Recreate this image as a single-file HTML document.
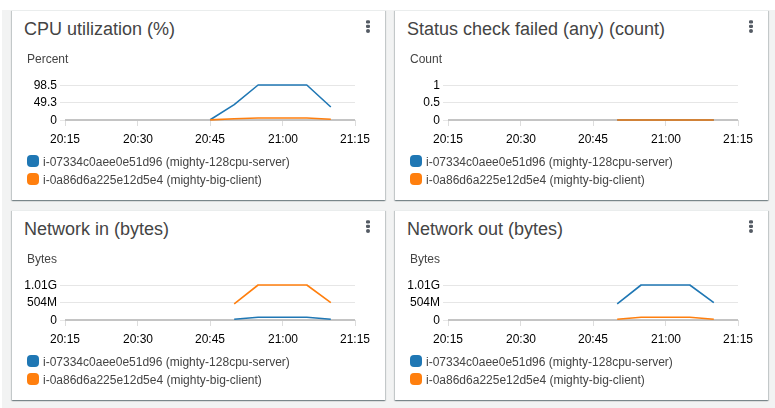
<!DOCTYPE html>
<html><head><meta charset="utf-8"><title>CloudWatch</title>
<style>
html,body{margin:0;padding:0;background:#fff;}
body{width:775px;height:408px;overflow:hidden;position:relative;font-family:"Liberation Sans",sans-serif;}
.bg{position:absolute;left:2px;top:10px;width:773px;height:398px;background:#f2f3f3;}
.p{position:absolute;width:373px;height:190px;background:#fff;box-shadow:inset 0 1px 0 0 #eaeded,0 1px 1px 0 rgba(0,28,36,.3),1px 1px 1px 0 rgba(0,28,36,.15),-1px 1px 1px 0 rgba(0,28,36,.15);}
.t{position:absolute;left:12px;top:8px;font-size:18px;line-height:22px;color:#444;white-space:nowrap;}
.k{position:absolute;left:353px;top:9px;fill:#545b64;}
.u{position:absolute;left:15px;top:42px;font-size:12px;line-height:14px;color:#444;white-space:nowrap;}
.y{position:absolute;left:0;width:45px;text-align:right;font-size:12px;line-height:14px;color:#000;}
.c{position:absolute;left:0;top:0;}
.x{position:absolute;top:122px;width:60px;text-align:center;font-size:12px;line-height:14px;color:#000;}
.l{position:absolute;left:15px;font-size:12px;line-height:14px;color:#444;white-space:nowrap;}
.l i{position:absolute;left:0;top:0;width:12px;height:12px;border-radius:4px;}
.l{padding-left:16px;}
.u,.y,.x,.l{will-change:transform;}
</style></head><body>
<div class="bg"></div>
<div class="p" style="left:12px;top:10px">
<div class="t">CPU utilization (%)</div>
<svg class="k" width="6" height="15" viewBox="0 0 6 15"><rect x="1" y="1.15" width="4" height="3.3" rx="1.3"/><rect x="1" y="5.75" width="4" height="3.3" rx="1.3"/><circle cx="3" cy="12" r="2"/></svg>
<div class="u">Percent</div>
<div class="y" style="top:68px">98.5</div>
<div class="y" style="top:85px">49.3</div>
<div class="y" style="top:103px">0</div>
<svg class="c" width="373" height="140" viewBox="0 0 373 140">
<path d="M48 75.5H343M48 92.5H343M48 110.5H343" stroke="#e6e6e6" stroke-width="1" fill="none"/>
<path d="M53.5 110V116M125.5 110V116M198.5 110V116M270.5 110V116M343.5 110V116" stroke="#dddddd" stroke-width="1" fill="none"/>
<path d="M53 110H343" stroke="#c4c4c4" stroke-width="2" fill="none"/>
<path d="M198.2 109.8L222.2 94.6L246.1 75L294.8 75L318.8 97" stroke="#1f77b4" stroke-width="1.6" fill="none" stroke-linejoin="round"/>
<path d="M198.2 109.9L222.2 108.8L246.1 108L294.8 108L318.8 109.2" stroke="#ff7f0e" stroke-width="1.6" fill="none" stroke-linejoin="round"/>
</svg>
<div class="x" style="left:23px">20:15</div>
<div class="x" style="left:95.5px">20:30</div>
<div class="x" style="left:168px">20:45</div>
<div class="x" style="left:240.5px">21:00</div>
<div class="x" style="left:313px">21:15</div>
<div class="l" style="top:145px"><i style="background:#1f77b4"></i>i-07334c0aee0e51d96 (mighty-128cpu-server)</div>
<div class="l" style="top:163px"><i style="background:#ff7f0e"></i>i-0a86d6a225e12d5e4 (mighty-big-client)</div>
</div>
<div class="p" style="left:395px;top:10px">
<div class="t">Status check failed (any) (count)</div>
<svg class="k" width="6" height="15" viewBox="0 0 6 15"><rect x="1" y="1.15" width="4" height="3.3" rx="1.3"/><rect x="1" y="5.75" width="4" height="3.3" rx="1.3"/><circle cx="3" cy="12" r="2"/></svg>
<div class="u">Count</div>
<div class="y" style="top:68px">1</div>
<div class="y" style="top:85px">0.5</div>
<div class="y" style="top:103px">0</div>
<svg class="c" width="373" height="140" viewBox="0 0 373 140">
<path d="M48 75.5H343M48 92.5H343M48 110.5H343" stroke="#e6e6e6" stroke-width="1" fill="none"/>
<path d="M53.5 110V116M125.5 110V116M198.5 110V116M270.5 110V116M343.5 110V116" stroke="#dddddd" stroke-width="1" fill="none"/>
<path d="M53 110H343" stroke="#c4c4c4" stroke-width="2" fill="none"/>
<path d="M222.2 110L318.8 110" stroke="#1f77b4" stroke-width="1.6" fill="none" stroke-linejoin="round"/>
<path d="M222.2 110L318.8 110" stroke="#ff7f0e" stroke-width="1.6" fill="none" stroke-linejoin="round"/>
</svg>
<div class="x" style="left:23px">20:15</div>
<div class="x" style="left:95.5px">20:30</div>
<div class="x" style="left:168px">20:45</div>
<div class="x" style="left:240.5px">21:00</div>
<div class="x" style="left:313px">21:15</div>
<div class="l" style="top:145px"><i style="background:#1f77b4"></i>i-07334c0aee0e51d96 (mighty-128cpu-server)</div>
<div class="l" style="top:163px"><i style="background:#ff7f0e"></i>i-0a86d6a225e12d5e4 (mighty-big-client)</div>
</div>
<div class="p" style="left:12px;top:210px">
<div class="t">Network in (bytes)</div>
<svg class="k" width="6" height="15" viewBox="0 0 6 15"><rect x="1" y="1.15" width="4" height="3.3" rx="1.3"/><rect x="1" y="5.75" width="4" height="3.3" rx="1.3"/><circle cx="3" cy="12" r="2"/></svg>
<div class="u">Bytes</div>
<div class="y" style="top:68px">1.01G</div>
<div class="y" style="top:85px">504M</div>
<div class="y" style="top:103px">0</div>
<svg class="c" width="373" height="140" viewBox="0 0 373 140">
<path d="M48 75.5H343M48 92.5H343M48 110.5H343" stroke="#e6e6e6" stroke-width="1" fill="none"/>
<path d="M53.5 110V116M125.5 110V116M198.5 110V116M270.5 110V116M343.5 110V116" stroke="#dddddd" stroke-width="1" fill="none"/>
<path d="M53 110H343" stroke="#c4c4c4" stroke-width="2" fill="none"/>
<path d="M222.2 109.3L246.1 107.2L294.8 107.2L318.8 109.3" stroke="#1f77b4" stroke-width="1.6" fill="none" stroke-linejoin="round"/>
<path d="M222.2 93.8L246.1 75L294.8 75L318.8 92.6" stroke="#ff7f0e" stroke-width="1.6" fill="none" stroke-linejoin="round"/>
</svg>
<div class="x" style="left:23px">20:15</div>
<div class="x" style="left:95.5px">20:30</div>
<div class="x" style="left:168px">20:45</div>
<div class="x" style="left:240.5px">21:00</div>
<div class="x" style="left:313px">21:15</div>
<div class="l" style="top:145px"><i style="background:#1f77b4"></i>i-07334c0aee0e51d96 (mighty-128cpu-server)</div>
<div class="l" style="top:163px"><i style="background:#ff7f0e"></i>i-0a86d6a225e12d5e4 (mighty-big-client)</div>
</div>
<div class="p" style="left:395px;top:210px">
<div class="t">Network out (bytes)</div>
<svg class="k" width="6" height="15" viewBox="0 0 6 15"><rect x="1" y="1.15" width="4" height="3.3" rx="1.3"/><rect x="1" y="5.75" width="4" height="3.3" rx="1.3"/><circle cx="3" cy="12" r="2"/></svg>
<div class="u">Bytes</div>
<div class="y" style="top:68px">1.01G</div>
<div class="y" style="top:85px">504M</div>
<div class="y" style="top:103px">0</div>
<svg class="c" width="373" height="140" viewBox="0 0 373 140">
<path d="M48 75.5H343M48 92.5H343M48 110.5H343" stroke="#e6e6e6" stroke-width="1" fill="none"/>
<path d="M53.5 110V116M125.5 110V116M198.5 110V116M270.5 110V116M343.5 110V116" stroke="#dddddd" stroke-width="1" fill="none"/>
<path d="M53 110H343" stroke="#c4c4c4" stroke-width="2" fill="none"/>
<path d="M222.2 93.8L246.1 75L294.8 75L318.8 92.6" stroke="#1f77b4" stroke-width="1.6" fill="none" stroke-linejoin="round"/>
<path d="M222.2 109.3L246.1 107.2L294.8 107.2L318.8 109.3" stroke="#ff7f0e" stroke-width="1.6" fill="none" stroke-linejoin="round"/>
</svg>
<div class="x" style="left:23px">20:15</div>
<div class="x" style="left:95.5px">20:30</div>
<div class="x" style="left:168px">20:45</div>
<div class="x" style="left:240.5px">21:00</div>
<div class="x" style="left:313px">21:15</div>
<div class="l" style="top:145px"><i style="background:#1f77b4"></i>i-07334c0aee0e51d96 (mighty-128cpu-server)</div>
<div class="l" style="top:163px"><i style="background:#ff7f0e"></i>i-0a86d6a225e12d5e4 (mighty-big-client)</div>
</div>
</body></html>
